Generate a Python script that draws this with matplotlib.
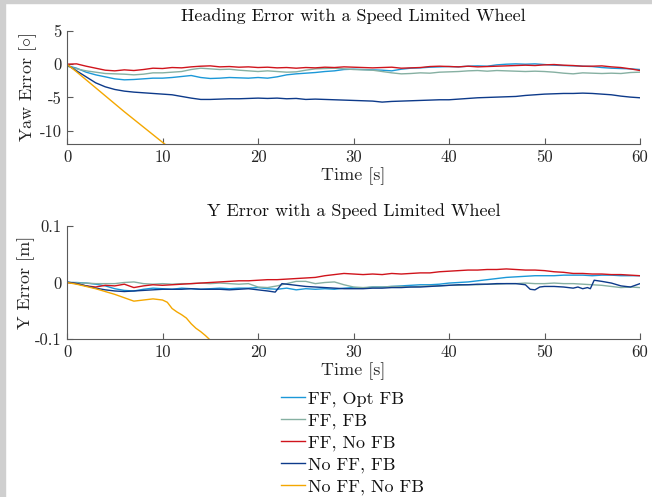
import numpy as np
import matplotlib
matplotlib.use("Agg")
import matplotlib.pyplot as plt
from matplotlib.patches import Rectangle

plt.rcParams['font.family'] = 'serif'
plt.rcParams['font.serif'] = ['cmr10', 'DejaVu Serif']
plt.rcParams['mathtext.fontset'] = 'cm'
plt.rcParams['axes.unicode_minus'] = False

labels = ["FF, Opt FB", "FF, FB", "FF, No FB", "No FF, FB", "No FF, No FB"]
colors = ["#1b98d8", "#86b0a2", "#d0141c", "#0d3a8a", "#f4a700"]

t = np.arange(61)

# heading error [deg]
yaw_opt = [-0.2, -0.6, -1.2, -1.6, -1.9, -2.2, -2.35, -2.3, -2.2, -2.1, -2.1, -2.0, -1.85, -1.7,
           -2.0, -2.15, -2.1, -2.0, -2.05, -2.1, -2.0, -2.1, -1.9, -1.6, -1.45, -1.35, -1.25,
           -1.1, -1.0, -0.8, -0.75, -0.8, -0.85, -0.9, -1.0, -0.75, -0.6, -0.55, -0.45, -0.4,
           -0.35, -0.4, -0.3, -0.25, -0.3, -0.1, 0.0, 0.05, 0.0, 0.05, -0.05, -0.15, -0.2,
           -0.25, -0.3, -0.35, -0.5, -0.6, -0.65, -0.7, -0.8]
yaw_fb = [-0.3, -0.7, -1.0, -1.2, -1.4, -1.45, -1.5, -1.6, -1.5, -1.3, -1.3, -1.2, -1.1, -0.8,
          -0.6, -0.7, -0.8, -0.75, -0.9, -1.0, -1.1, -1.0, -1.1, -1.2, -1.15, -0.9, -0.7, -0.65,
          -0.6, -0.7, -0.8, -0.85, -0.9, -1.1, -1.3, -1.45, -1.4, -1.3, -1.35, -1.2, -1.15,
          -1.1, -1.0, -0.95, -1.05, -0.95, -1.0, -1.05, -1.1, -1.05, -1.1, -1.2, -1.35, -1.45,
          -1.3, -1.35, -1.4, -1.35, -1.4, -1.25, -1.2]
yaw_nofb = [0.0, 0.05, -0.3, -0.6, -0.9, -1.0, -0.85, -0.95, -0.8, -0.6, -0.65, -0.5, -0.55,
            -0.4, -0.3, -0.25, -0.4, -0.35, -0.45, -0.4, -0.5, -0.45, -0.55, -0.5, -0.6, -0.5,
            -0.55, -0.45, -0.5, -0.4, -0.45, -0.5, -0.55, -0.5, -0.45, -0.6, -0.55, -0.5, -0.35,
            -0.3, -0.35, -0.4, -0.3, -0.4, -0.35, -0.3, -0.25, -0.2, -0.15, -0.2, -0.1, -0.05,
            -0.15, -0.2, -0.3, -0.3, -0.25, -0.4, -0.5, -0.7, -0.95]
yaw_noff = [-0.1, -1.0, -1.9, -2.8, -3.4, -3.8, -4.05, -4.2, -4.3, -4.4, -4.5, -4.6, -4.85,
            -5.1, -5.3, -5.3, -5.25, -5.2, -5.2, -5.15, -5.1, -5.15, -5.1, -5.2, -5.15, -5.3,
            -5.25, -5.3, -5.35, -5.4, -5.45, -5.5, -5.55, -5.7, -5.6, -5.55, -5.5, -5.45, -5.4,
            -5.35, -5.35, -5.25, -5.15, -5.05, -5.0, -4.95, -4.9, -4.85, -4.7, -4.6, -4.5,
            -4.45, -4.4, -4.4, -4.35, -4.4, -4.5, -4.6, -4.8, -4.95, -5.05]
t_orange_yaw = [0, 1, 2, 3, 4, 5, 6, 7, 8, 9, 10, 10.5]
yaw_orange = [0.0, -1.15, -2.35, -3.55, -4.75, -5.95, -7.15, -8.3, -9.45, -10.6, -11.75, -12.3]

# lateral error [m]
y_opt = [0.0, 0.0, -0.001, -0.003, -0.006, -0.011, -0.014, -0.015, -0.012, -0.010, -0.011,
         -0.012, -0.010, -0.011, -0.012, -0.011, -0.010, -0.011, -0.010, -0.010, -0.009,
         -0.011, -0.012, -0.010, -0.013, -0.011, -0.012, -0.011, -0.012, -0.010, -0.009,
         -0.010, -0.008, -0.008, -0.007, -0.006, -0.005, -0.004, -0.004, -0.003, -0.001,
         0.0, 0.001, 0.003, 0.005, 0.007, 0.009, 0.010, 0.011, 0.012, 0.012, 0.012, 0.013,
         0.013, 0.013, 0.012, 0.013, 0.013, 0.012, 0.012, 0.012]
y_fb = [0.0, -0.001, -0.001, -0.002, -0.002, -0.002, 0.0, 0.001, -0.002, -0.003, -0.002,
        -0.003, -0.002, -0.002, -0.001, -0.002, -0.001, -0.002, -0.003, -0.002, -0.008, -0.009,
        -0.006, -0.002, 0.002, 0.002, -0.002, 0.0, 0.001, -0.004, -0.008, -0.009, -0.008,
        -0.008, -0.007, -0.007, -0.008, -0.007, -0.006, -0.006, -0.005, -0.005, -0.004, -0.004,
        -0.003, -0.003, -0.002, -0.002, -0.001, -0.002, -0.002, -0.001, -0.002, -0.002, -0.003,
        -0.004, -0.005, -0.007, -0.009, -0.008, -0.009]
y_nofb = [0.0, -0.002, -0.006, -0.008, -0.005, -0.006, -0.003, -0.009, -0.006, -0.004, -0.005,
          -0.004, -0.003, -0.002, -0.001, 0.0, 0.001, 0.002, 0.003, 0.003, 0.004, 0.005, 0.005,
          0.006, 0.007, 0.008, 0.009, 0.012, 0.014, 0.016, 0.015, 0.014, 0.015, 0.014, 0.016,
          0.015, 0.016, 0.017, 0.017, 0.019, 0.020, 0.021, 0.022, 0.022, 0.023, 0.023, 0.024,
          0.023, 0.022, 0.022, 0.021, 0.019, 0.018, 0.016, 0.016, 0.015, 0.015, 0.014, 0.014,
          0.013, 0.012]
t_noff_y = [0, 1, 2, 3, 4, 5, 6, 7, 8, 9, 10, 11, 12, 13, 14, 15, 16, 17, 18, 19, 20, 21, 21.8,
            22.5, 23, 24, 25, 26, 27, 28, 29, 30, 31, 32, 33, 34, 35, 36, 37, 38, 39, 40, 41,
            42, 43, 44, 45, 46, 47, 48, 48.5, 49, 49.5, 50, 51, 52, 53, 53.5, 54, 54.5, 54.8,
            55.2, 56, 57, 58, 59, 59.5, 60]
y_noff = [0.001, -0.002, -0.006, -0.010, -0.013, -0.015, -0.016, -0.015, -0.014, -0.013,
          -0.012, -0.012, -0.012, -0.011, -0.012, -0.012, -0.012, -0.013, -0.012, -0.011,
          -0.013, -0.015, -0.017, -0.002, -0.003, -0.005, -0.007, -0.008, -0.009, -0.010,
          -0.011, -0.011, -0.011, -0.010, -0.010, -0.009, -0.009, -0.008, -0.008, -0.007,
          -0.006, -0.005, -0.004, -0.004, -0.003, -0.003, -0.002, -0.002, -0.002, -0.004,
          -0.012, -0.013, -0.008, -0.007, -0.007, -0.008, -0.010, -0.008, -0.011, -0.009,
          -0.011, 0.004, 0.002, -0.001, -0.006, -0.008, -0.005, -0.002]
t_orange_y = [0, 1, 2, 3, 4, 5, 6, 7, 8, 9, 10, 10.5, 11, 11.5, 12, 12.5, 13, 13.5, 14, 14.5,
              15, 15.3]
y_orange = [0.0, -0.003, -0.007, -0.011, -0.016, -0.021, -0.027, -0.033, -0.031, -0.029,
            -0.031, -0.035, -0.046, -0.052, -0.057, -0.063, -0.073, -0.081, -0.087, -0.094,
            -0.102, -0.106]

fig = plt.figure(figsize=(6.52, 4.97), dpi=100)
fig.patches.append(Rectangle((0, 0), 5 / 652, 1, transform=fig.transFigure,
                             color="#cfcfcf", zorder=-1))
fig.patches.append(Rectangle((0, 1 - 3 / 497), 1, 3 / 497, transform=fig.transFigure,
                             color="#cfcfcf", zorder=-1))

ax1 = fig.add_axes([0.1028, 0.7103, 0.8788, 0.2274])
ax2 = fig.add_axes([0.1028, 0.3179, 0.8788, 0.2274])

lw = 1.0
top_series = [(t, yaw_opt), (t, yaw_fb), (t, yaw_nofb), (t, yaw_noff), (t_orange_yaw, yaw_orange)]
bot_series = [(t, y_opt), (t, y_fb), (t, y_nofb), (t_noff_y, y_noff), (t_orange_y, y_orange)]

handles = []
for (xs, ys), c, lab in zip(top_series, colors, labels):
    h, = ax1.plot(xs, ys, color=c, lw=lw, label=lab)
    handles.append(h)
for (xs, ys), c in zip(bot_series, colors):
    ax2.plot(xs, ys, color=c, lw=lw)

for ax in (ax1, ax2):
    ax.set_xlim(0, 60)
    ax.set_xticks(range(0, 61, 10))
    ax.set_xticklabels([str(v) for v in range(0, 61, 10)])
    for s in ("top", "right"):
        ax.spines[s].set_visible(False)
    for s in ("left", "bottom"):
        ax.spines[s].set_color("#5a5a5a")
        ax.spines[s].set_linewidth(0.8)
    ax.tick_params(direction="in", length=4.5, width=0.8, color="#5a5a5a",
                   labelcolor="#262626", labelsize=12, pad=4)
    ax.set_xlabel("Time [s]", fontsize=13, color="#262626", labelpad=2)

ax1.set_ylim(-12, 5)
ax1.set_yticks([-10, -5, 0, 5])
ax1.set_yticklabels(["-10", "-5", "0", "5"])
ax1.set_ylabel("Yaw Error [$\\circ$]", fontsize=13, color="#262626", labelpad=0)
ax1.set_title("Heading Error with a Speed Limited Wheel", fontsize=13, color="#111111", pad=7)

ax2.set_ylim(-0.1, 0.1)
ax2.set_yticks([-0.1, 0, 0.1])
ax2.set_yticklabels(["-0.1", "0", "0.1"])
ax2.set_ylabel("Y Error [m]", fontsize=13, color="#262626", labelpad=0)
ax2.set_title("Y Error with a Speed Limited Wheel", fontsize=13, color="#111111", pad=7)

fig.legend(handles=handles, loc="center", bbox_to_anchor=(0.54, 0.109), frameon=False,
           fontsize=13, handlelength=1.35, handletextpad=0.15, labelspacing=0.32,
           borderpad=0, labelcolor="#111111")

fig.savefig("out.png", dpi=100)
